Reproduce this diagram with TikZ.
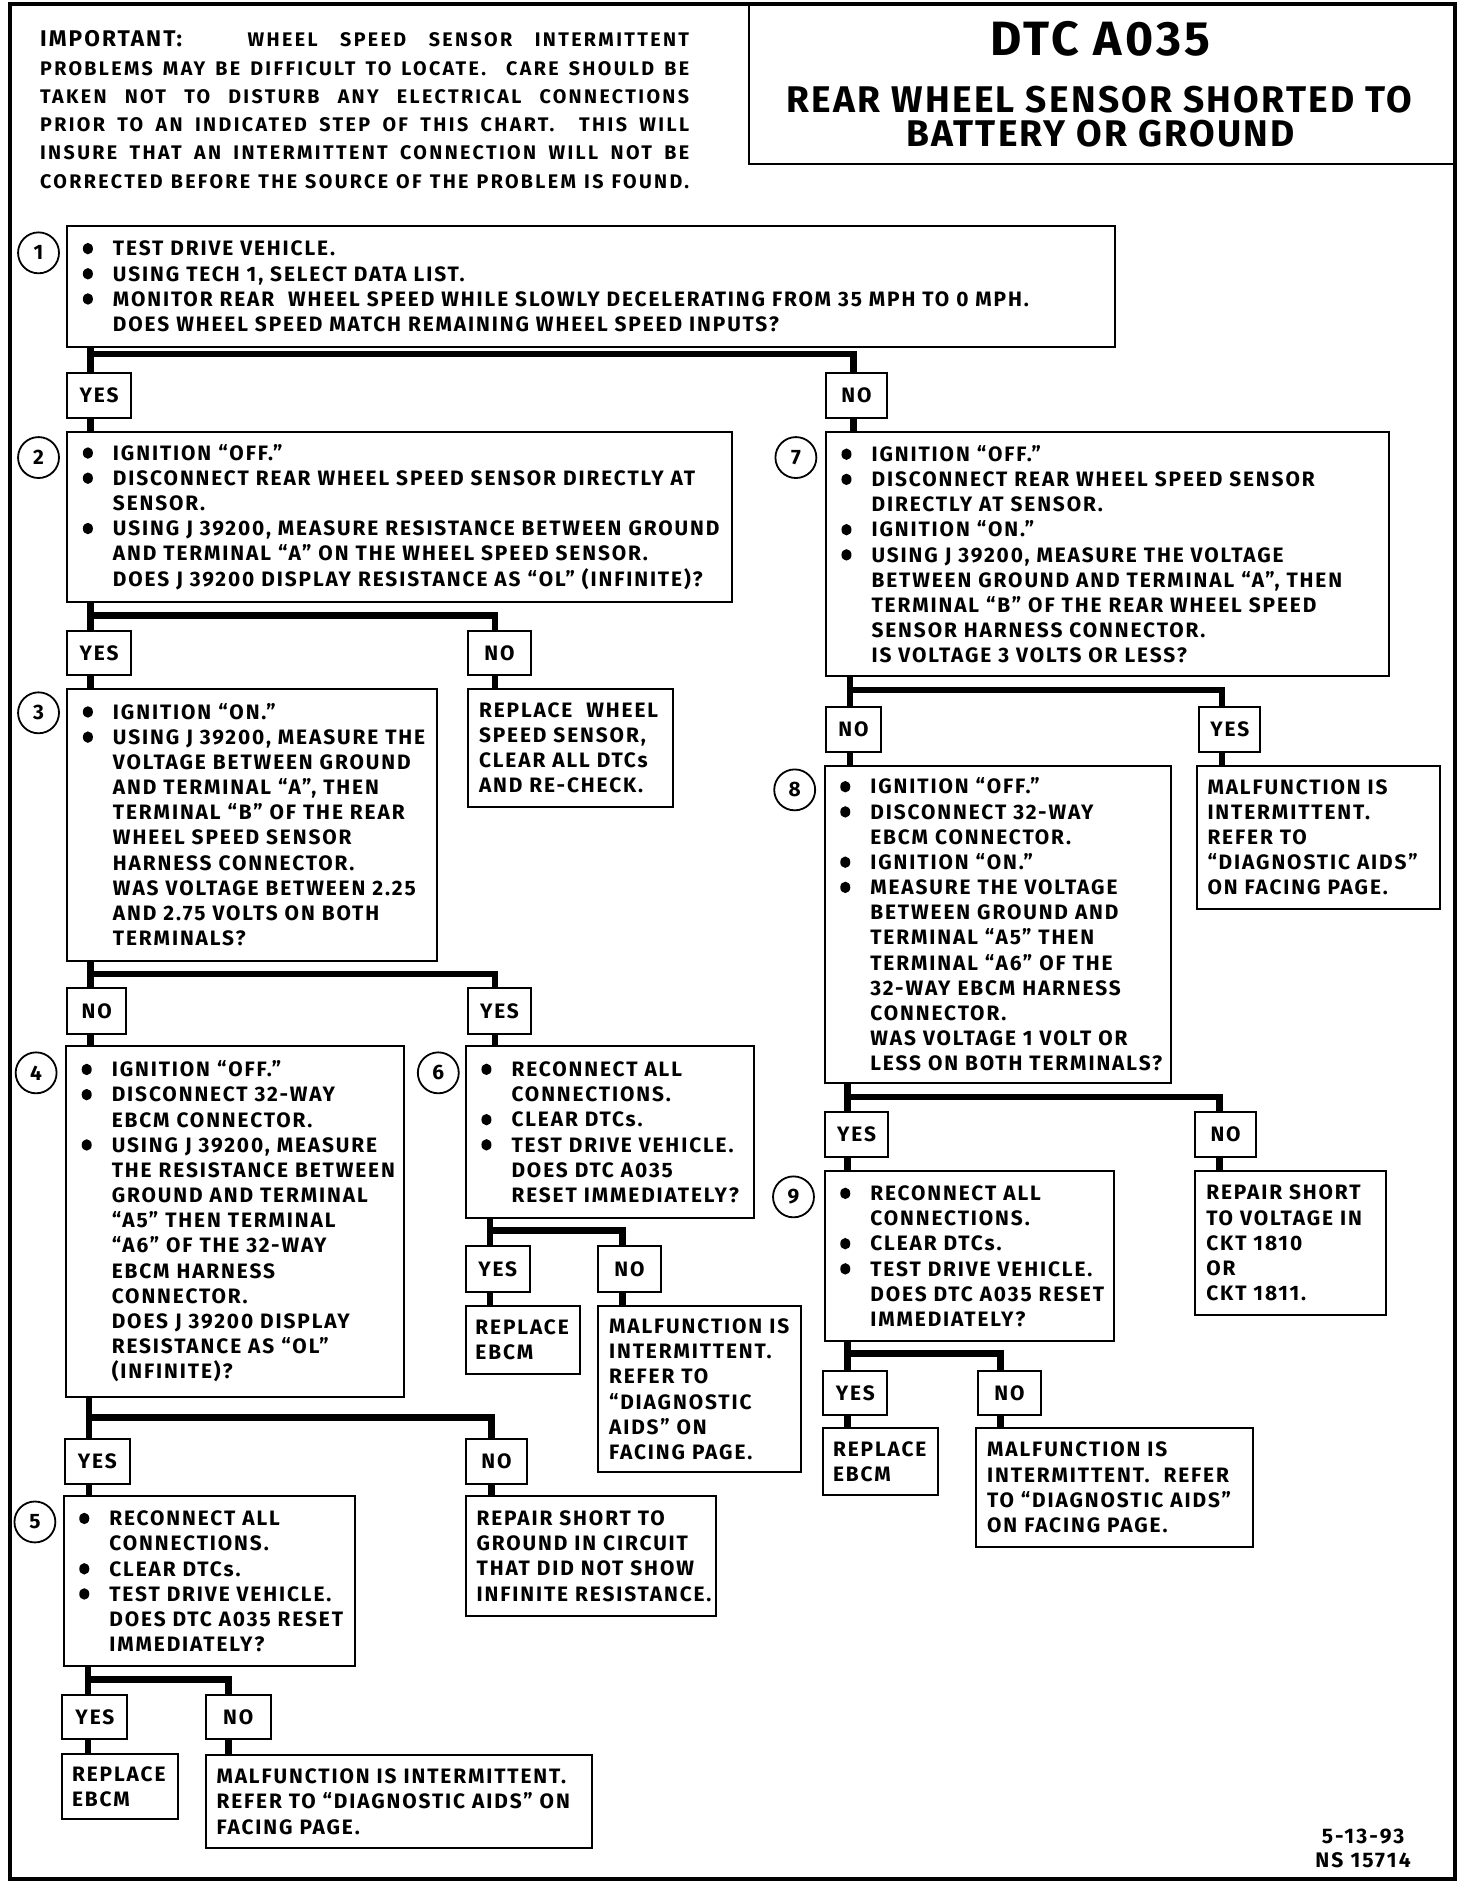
\documentclass[tikz,border=0pt]{standalone}
\usepackage{fontspec}
\setmainfont{Fira Sans}
\usepackage{graphicx}
\usetikzlibrary{calc}

\newcommand\bodyf{\bfseries\fontsize{10.4}{12.54}\selectfont\addfontfeature{LetterSpace=9}}
\newcommand\bulg{\tikz[baseline=0pt]\fill (2.5pt,3.6pt) ellipse [x radius=2.5pt, y radius=2.85pt];}
\newcommand\mybi[1]{\mbox{\makebox[15pt][l]{\bulg}#1}}
\newcommand\myci[1]{\mbox{\hspace*{15pt}#1}}
\newcommand\mypl[1]{\mbox{#1}}

\tikzset{
  boxst/.style={draw, line width=1pt, inner ysep=0pt, align=left, font=\bodyf, anchor=north west},
  ynst/.style={draw, line width=1pt, inner sep=0pt, font=\bodyf, anchor=north west},
  numst/.style={draw, circle, line width=0.9pt, inner sep=0pt, minimum size=20.4pt, font=\bodyf},
  conn/.style={line width=3.3pt},
  impst/.style={font=\bfseries\fontsize{9.8}{14.1}\selectfont\addfontfeature{LetterSpace=12}, align=left, inner sep=0pt},
  titst/.style={font=\bfseries\fontsize{18.5}{22}\selectfont\addfontfeature{LetterSpace=6}, inner sep=0pt},
  footst/.style={font=\bfseries\fontsize{10.5}{12}\selectfont\addfontfeature{LetterSpace=10}, inner sep=0pt},
}

\newcommand\mybx[7]{%
  \pgfmathsetmacro\bxtw{(#4-#2-2*#6)*0.6}%
  \pgfmathsetmacro\bxmw{(#4-#2)*0.6}%
  \pgfmathsetmacro\bxmh{(#5-#3)*0.6}%
  \pgfmathsetmacro\bxix{#6*0.6}%
  \node[boxst, inner xsep=\bxix pt, text width=\bxtw pt, minimum width=\bxmw pt, minimum height=\bxmh pt] (#1) at (#2,#3) {#7};}
\newcommand\myyn[6]{%
  \pgfmathsetmacro\bxmw{(#4-#2)*0.6}%
  \pgfmathsetmacro\bxmh{(#5-#3)*0.6}%
  \node[ynst, minimum width=\bxmw pt, minimum height=\bxmh pt] (#1) at (#2,#3) {#6};}

\begin{document}
\begin{tikzpicture}[x=0.6pt, y=-0.6pt]
\useasboundingbox (0,0) rectangle (1223,1568);

% frame and title
\node[draw, line width=2pt, anchor=north west, minimum width=720pt, minimum height=934.5pt, inner sep=0pt] (frame) at (7,1.5) {};
\node[draw, line width=1pt, anchor=north west, minimum width=351.6pt, minimum height=80.1pt, inner sep=0pt] (tbox) at (621,1.5) {};
\node[font=\bfseries\fontsize{24}{28}\selectfont\addfontfeature{LetterSpace=7}, inner sep=0pt] (t1) at (914,32) {DTC A035};
\node[titst] (t2) at (913,82.4) {REAR WHEEL SENSOR SHORTED TO};
\node[titst] (t3) at (914,111) {BATTERY OR GROUND};

% important note
\node[impst, anchor=west] (imp) at (33,91) {%
\makebox[323.4pt][l]{{\fontsize{11.3}{14}\selectfont\addfontfeature{LetterSpace=9}IMPORTANT:}\hfill\makebox[220pt][s]{WHEEL SPEED SENSOR INTERMITTENT}}\\
\makebox[323.4pt][s]{PROBLEMS MAY BE DIFFICULT TO LOCATE.\ \ CARE SHOULD BE}\\
\makebox[323.4pt][s]{TAKEN NOT TO DISTURB ANY ELECTRICAL CONNECTIONS}\\
\makebox[323.4pt][s]{PRIOR TO AN INDICATED STEP OF THIS CHART.\ \ THIS WILL}\\
\makebox[323.4pt][s]{INSURE THAT AN INTERMITTENT CONNECTION WILL NOT BE}\\
\makebox[323.4pt][s]{CORRECTED BEFORE THE SOURCE OF THE PROBLEM IS FOUND.}};

% step boxes
\mybx{b1}{55}{187}{925}{287}{13}{\mybi{TEST DRIVE VEHICLE.}\\
\mybi{USING TECH 1, SELECT DATA LIST.}\\
\mybi{MONITOR REAR\ \ WHEEL SPEED WHILE SLOWLY DECELERATING FROM 35 MPH TO 0 MPH.}\\
\myci{DOES WHEEL SPEED MATCH REMAINING WHEEL SPEED INPUTS?}}
\myyn{y1}{55}{309}{108}{346}{YES}
\myyn{n1}{685}{309}{736}{346}{NO}

\mybx{b2}{55}{358}{607}{499}{13}{\mybi{IGNITION ``OFF.''}\\
\mybi{DISCONNECT REAR WHEEL SPEED SENSOR DIRECTLY AT}\\
\myci{SENSOR.}\\
\mybi{USING J 39200, MEASURE RESISTANCE BETWEEN GROUND}\\
\myci{AND TERMINAL ``A'' ON THE WHEEL SPEED SENSOR.}\\
\myci{DOES J 39200 DISPLAY RESISTANCE AS ``OL'' (INFINITE)?}}
\myyn{y2}{55}{523}{108}{560}{YES}
\myyn{n2}{388}{523}{440}{560}{NO}

\mybx{r2}{388}{571}{558}{669}{9}{\mypl{REPLACE\ \ WHEEL}\\
\mypl{SPEED SENSOR,}\\
\mypl{CLEAR ALL DTCs}\\
\mypl{AND RE-CHECK.}}

\mybx{b3}{55}{571}{362}{797}{13}{\mybi{IGNITION ``ON.''}\\
\mybi{USING J 39200, MEASURE THE}\\
\myci{VOLTAGE BETWEEN GROUND}\\
\myci{AND TERMINAL ``A'', THEN}\\
\myci{TERMINAL ``B'' OF THE REAR}\\
\myci{WHEEL SPEED SENSOR}\\
\myci{HARNESS CONNECTOR.}\\
\myci{WAS VOLTAGE BETWEEN 2.25}\\
\myci{AND 2.75 VOLTS ON BOTH}\\
\myci{TERMINALS?}}
\myyn{n3}{55}{820}{104}{858}{NO}
\myyn{y3}{388}{820}{440}{858}{YES}

\mybx{b4}{54}{868}{335}{1159}{13}{\mybi{IGNITION ``OFF.''}\\
\mybi{DISCONNECT 32-WAY}\\
\myci{EBCM CONNECTOR.}\\
\mybi{USING J 39200, MEASURE}\\
\myci{THE RESISTANCE BETWEEN}\\
\myci{GROUND AND TERMINAL}\\
\myci{``A5'' THEN TERMINAL}\\
\myci{``A6'' OF THE 32-WAY}\\
\myci{EBCM HARNESS}\\
\myci{CONNECTOR.}\\
\myci{DOES J 39200 DISPLAY}\\
\myci{RESISTANCE AS ``OL''}\\
\myci{(INFINITE)?}}

\mybx{b6}{386}{868}{625}{1011}{13}{\mybi{RECONNECT ALL}\\
\myci{CONNECTIONS.}\\
\mybi{CLEAR DTCs.}\\
\mybi{TEST DRIVE VEHICLE.}\\
\myci{DOES DTC A035}\\
\myci{RESET IMMEDIATELY?}}
\myyn{y6}{386}{1034}{439}{1072}{YES}
\myyn{n6}{496}{1034}{548}{1072}{NO}
\mybx{e6}{386}{1084}{481}{1140}{8}{\mypl{REPLACE}\\ \mypl{EBCM}}
\mybx{m6}{496}{1084}{664}{1222}{9}{\mypl{MALFUNCTION IS}\\
\mypl{INTERMITTENT.}\\
\mypl{REFER TO}\\
\mypl{``DIAGNOSTIC}\\
\mypl{AIDS'' ON}\\
\mypl{FACING PAGE.}}

\myyn{y4}{53}{1194}{107}{1232}{YES}
\myyn{n4}{386}{1194}{437}{1232}{NO}
\mybx{b5}{52}{1242}{294}{1383}{13}{\mybi{RECONNECT ALL}\\
\myci{CONNECTIONS.}\\
\mybi{CLEAR DTCs.}\\
\mybi{TEST DRIVE VEHICLE.}\\
\myci{DOES DTC A035 RESET}\\
\myci{IMMEDIATELY?}}
\mybx{r4}{386}{1242}{594}{1341}{9}{\mypl{REPAIR SHORT TO}\\
\mypl{GROUND IN CIRCUIT}\\
\mypl{THAT DID NOT SHOW}\\
\mypl{INFINITE RESISTANCE.}}
\myyn{y5}{51}{1407}{105}{1443}{YES}
\myyn{n5}{170}{1407}{224}{1443}{NO}
\mybx{e5}{51}{1456}{147}{1510}{8}{\mypl{REPLACE}\\ \mypl{EBCM}}
\mybx{m5}{170}{1457}{491}{1534}{9}{\mypl{MALFUNCTION IS INTERMITTENT.}\\
\mypl{REFER TO ``DIAGNOSTIC AIDS'' ON}\\
\mypl{FACING PAGE.}}

\mybx{b7}{685}{358}{1153}{561}{13}{\mybi{IGNITION ``OFF.''}\\
\mybi{DISCONNECT REAR WHEEL SPEED SENSOR}\\
\myci{DIRECTLY AT SENSOR.}\\
\mybi{IGNITION ``ON.''}\\
\mybi{USING J 39200, MEASURE THE VOLTAGE}\\
\myci{BETWEEN GROUND AND TERMINAL ``A'', THEN}\\
\myci{TERMINAL ``B'' OF THE REAR WHEEL SPEED}\\
\myci{SENSOR HARNESS CONNECTOR.}\\
\myci{IS VOLTAGE 3 VOLTS OR LESS?}}
\myyn{n7}{685}{586}{731}{624}{NO}
\myyn{y7}{995}{586}{1046}{624}{YES}

\mybx{b8}{684}{635}{972}{899}{13}{\mybi{IGNITION ``OFF.''}\\
\mybi{DISCONNECT 32-WAY}\\
\myci{EBCM CONNECTOR.}\\
\mybi{IGNITION ``ON.''}\\
\mybi{MEASURE THE VOLTAGE}\\
\myci{BETWEEN GROUND AND}\\
\myci{TERMINAL ``A5'' THEN}\\
\myci{TERMINAL ``A6'' OF THE}\\
\myci{32-WAY EBCM HARNESS}\\
\myci{CONNECTOR.}\\
\myci{WAS VOLTAGE 1 VOLT OR}\\
\myci{LESS ON BOTH TERMINALS?}}
\mybx{m7}{993}{635}{1195}{754}{9}{\mypl{MALFUNCTION IS}\\
\mypl{INTERMITTENT.}\\
\mypl{REFER TO}\\
\mypl{``DIAGNOSTIC AIDS''}\\
\mypl{ON FACING PAGE.}}
\myyn{y8}{684}{923}{737}{960}{YES}
\myyn{n8}{992}{923}{1042}{960}{NO}

\mybx{b9}{684}{972}{924}{1113}{13}{\mybi{RECONNECT ALL}\\
\myci{CONNECTIONS.}\\
\mybi{CLEAR DTCs.}\\
\mybi{TEST DRIVE VEHICLE.}\\
\myci{DOES DTC A035 RESET}\\
\myci{IMMEDIATELY?}}
\mybx{r8}{992}{972}{1150}{1091}{9}{\mypl{REPAIR SHORT}\\
\mypl{TO VOLTAGE IN}\\
\mypl{CKT 1810}\\
\mypl{OR}\\
\mypl{CKT 1811.}}
\myyn{y9}{683}{1138}{736}{1174}{YES}
\myyn{n9}{811}{1138}{864}{1174}{NO}
\mybx{e9}{683}{1185}{778}{1241}{8}{\mypl{REPLACE}\\ \mypl{EBCM}}
\mybx{m9}{810}{1185}{1040}{1284}{9}{\mypl{MALFUNCTION IS}\\
\mypl{INTERMITTENT.\ \ REFER}\\
\mypl{TO ``DIAGNOSTIC AIDS''}\\
\mypl{ON FACING PAGE.}}

% step numbers
\node[numst] (c1) at (32,210) {1};
\node[numst] (c2) at (32,380) {2};
\node[numst] (c3) at (32,592) {3};
\node[numst] (c4) at (30,891) {4};
\node[numst] (c5) at (29,1264) {5};
\node[numst] (c6) at (364,891) {6};
\node[numst] (c7) at (661,380) {7};
\node[numst] (c8) at (660,656) {8};
\node[numst] (c9) at (659,994) {9};

% junction coordinates
\coordinate (j1) at (75,294);  \coordinate (j1r) at (709,294);
\coordinate (j2) at (75,511);  \coordinate (j2r) at (411,511);
\coordinate (j3) at (75,809);  \coordinate (j3r) at (411,809);
\coordinate (j4) at (74,1177); \coordinate (j4r) at (408,1177);
\coordinate (j6) at (407,1022); \coordinate (j6r) at (517,1022);
\coordinate (j5) at (73,1395); \coordinate (j5r) at (190,1395);
\coordinate (j7) at (706,573); \coordinate (j7r) at (1015,573);
\coordinate (j8) at (704,911); \coordinate (j8r) at (1013,911);
\coordinate (j9) at (704,1124); \coordinate (j9r) at (831,1124);

% connectors
\draw[conn] (j1 |- b1.south) -- (j1 |- y1.north);
\draw[conn] (j1) -- (j1r) -- (j1r |- n1.north);
\draw[conn] (j1 |- y1.south) -- (j1 |- b2.north);
\draw[conn] (j1r |- n1.south) -- (j1r |- b7.north);

\draw[conn] (j2 |- b2.south) -- (j2 |- y2.north);
\draw[conn] (j2) -- (j2r) -- (j2r |- n2.north);
\draw[conn] (j2 |- y2.south) -- (j2 |- b3.north);
\draw[conn] (j2r |- n2.south) -- (j2r |- r2.north);

\draw[conn] (j3 |- b3.south) -- (j3 |- n3.north);
\draw[conn] (j3) -- (j3r) -- (j3r |- y3.north);
\draw[conn] (j3 |- n3.south) -- (j3 |- b4.north);
\draw[conn] (j3r |- y3.south) -- (j3r |- b6.north);

\draw[conn] (j6 |- b6.south) -- (j6 |- y6.north);
\draw[conn] (j6) -- (j6r) -- (j6r |- n6.north);
\draw[conn] (j6 |- y6.south) -- (j6 |- e6.north);
\draw[conn] (j6r |- n6.south) -- (j6r |- m6.north);

\draw[conn] (j4 |- b4.south) -- (j4 |- y4.north);
\draw[conn] (j4) -- (j4r) -- (j4r |- n4.north);
\draw[conn] (j4 |- y4.south) -- (j4 |- b5.north);
\draw[conn] (j4r |- n4.south) -- (j4r |- r4.north);

\draw[conn] (j5 |- b5.south) -- (j5 |- y5.north);
\draw[conn] (j5) -- (j5r) -- (j5r |- n5.north);
\draw[conn] (j5 |- y5.south) -- (j5 |- e5.north);
\draw[conn] (j5r |- n5.south) -- (j5r |- m5.north);

\draw[conn] (j7 |- b7.south) -- (j7 |- n7.north);
\draw[conn] (j7) -- (j7r) -- (j7r |- y7.north);
\draw[conn] (j7 |- n7.south) -- (j7 |- b8.north);
\draw[conn] (j7r |- y7.south) -- (j7r |- m7.north);

\draw[conn] (j8 |- b8.south) -- (j8 |- y8.north);
\draw[conn] (j8) -- (j8r) -- (j8r |- n8.north);
\draw[conn] (j8 |- y8.south) -- (j8 |- b9.north);
\draw[conn] (j8r |- n8.south) -- (j8r |- r8.north);

\draw[conn] (j9 |- b9.south) -- (j9 |- y9.north);
\draw[conn] (j9) -- (j9r) -- (j9r |- n9.north);
\draw[conn] (j9 |- y9.south) -- (j9 |- e9.north);
\draw[conn] (j9r |- n9.south) -- (j9r |- m9.north);

% footer
\node[footst] (f1) at (1132,1525) {5-13-93};
\node[footst] (f2) at (1132,1544.5) {NS 15714};
\end{tikzpicture}
\end{document}
